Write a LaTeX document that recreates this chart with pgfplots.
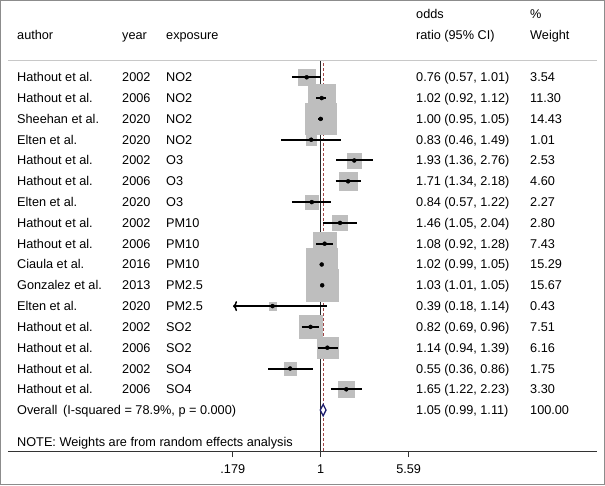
\documentclass[border=0pt]{standalone}
\usepackage{pgfplots}
\pgfplotsset{compat=1.18}
\usepackage{pgfplotstable}
\usepackage{fontspec}
\setmainfont{Liberation Sans}
\usetikzlibrary{arrows.meta}

\definecolor{boxgray}{RGB}{190,190,190}
\definecolor{refred}{RGB}{160,70,70}
\definecolor{diamblue}{RGB}{30,30,110}
\definecolor{framegray}{RGB}{140,140,140}
\definecolor{hdrgray}{RGB}{200,200,200}

% study estimates: odds ratio, 95% CI, weight, row position
\pgfplotstableread{
or   lo   hi   w     y
0.76 0.57 1.01 3.54  407.7
1.02 0.92 1.12 11.30 386.9
1.00 0.95 1.05 14.43 366.1
0.83 0.46 1.49 1.01  345.3
1.93 1.36 2.76 2.53  324.5
1.71 1.34 2.18 4.60  303.7
0.84 0.57 1.22 2.27  282.9
1.46 1.05 2.04 2.80  262.1
1.08 0.92 1.28 7.43  241.3
1.02 0.99 1.05 15.29 220.5
1.03 1.01 1.05 15.67 199.7
0.39 0.18 1.14 0.43  178.9
0.82 0.69 0.96 7.51  158.1
1.14 0.94 1.39 6.16  137.3
0.55 0.36 0.86 1.75  116.5
1.65 1.22 2.23 3.30  95.7
}\studies

\begin{document}
\begin{tikzpicture}[font=\fontsize{12.7}{15}\selectfont]
\begin{axis}[
  set layers=standard,
  scale only axis, width=589pt, height=390pt,
  xmode=log, xmin=0.0022, xmax=223,
  ymin=34, ymax=424,
  axis x line*=bottom, axis y line=none,
  x axis line style={-, draw=black!80, line width=1pt},
  xtick={0.179,1,5.59}, xticklabels={.179,1,5.59},
  minor xtick={},
  tick align=outside, major tick length=6pt,
  tick style={black!80, line width=0.8pt},
  xticklabel style={font=\fontsize{12.7}{15}\selectfont, yshift=-4.5pt},
  clip=false,
]
% reference lines
\addplot[on layer=axis background, black!85, line width=0.8pt] coordinates {(1,34) (1,424)};
\addplot[on layer=axis background, refred, line width=0.8pt, dash pattern=on 3pt off 2pt] coordinates {(1.05,34) (1.05,424)};
% weight boxes
\addplot[on layer=axis grid, mark layer=axis grid,
  scatter, only marks, mark=square*, draw=boxgray, fill=boxgray,
  mark options={draw=boxgray, fill=boxgray},
  scatter/use mapped color={draw=boxgray, fill=boxgray},
  visualization depends on={1.25+3.75*sqrt(\thisrow{w}) \as \hs},
  scatter/@pre marker code/.append style={/tikz/mark size=\hs}]
  table[x=or, y=y] {\studies};
% confidence intervals
\addplot[black, line width=2pt, empty line=jump] table {
x y
0.57 407.7
1.01 407.7

0.92 386.9
1.12 386.9

0.95 366.1
1.05 366.1

0.46 345.3
1.49 345.3

1.36 324.5
2.76 324.5

1.34 303.7
2.18 303.7

0.57 282.9
1.22 282.9

1.05 262.1
2.04 262.1

0.92 241.3
1.28 241.3

0.99 220.5
1.05 220.5

1.01 199.7
1.05 199.7

0.69 158.1
0.96 158.1

0.94 137.3
1.39 137.3

0.36 116.5
0.86 116.5

1.22 95.7
2.23 95.7
};
\addplot[black, line width=1.5pt, {To[length=4pt, width=10pt]}-] coordinates {(0.18,178.9) (1.14,178.9)};
% point estimates
\addplot[only marks, mark=*, mark size=2pt, black] table[x=or, y=y] {\studies};
% overall estimate
\addplot[draw=diamblue, fill=white, line width=1.3pt] coordinates {(0.99,74.9) (1.05,80.6) (1.11,74.9) (1.05,69.2) (0.99,74.9)};
\draw[hdrgray, line width=1pt] (rel axis cs:0,1) -- (rel axis cs:1,1);
\coordinate (LL) at (rel axis cs:0,0);
\coordinate (UR) at (rel axis cs:1,1);
\coordinate (R) at (axis cs:1,407.7);
\end{axis}

\tikzset{txt/.style={anchor=base west, inner sep=0pt}}
% header
\node[txt] at ([shift={(-303.7pt,37.8pt)}]R) {author};
\node[txt] at ([shift={(-198.7pt,37.8pt)}]R) {year};
\node[txt] at ([shift={(-154.7pt,37.8pt)}]R) {exposure};
\node[txt] at ([shift={(95.3pt,58.8pt)}]R) {odds};
\node[txt] at ([shift={(95.3pt,37.8pt)}]R) {ratio (95\% CI)};
\node[txt] at ([shift={(209.3pt,58.8pt)}]R) {\%};
\node[txt] at ([shift={(209.3pt,37.8pt)}]R) {Weight};
% rows
\foreach \au/\yr/\ex/\ci/\wt [count=\i from 0] in {
  Hathout et al./2002/NO2/{0.76 (0.57, 1.01)}/3.54,
  Hathout et al./2006/NO2/{1.02 (0.92, 1.12)}/11.30,
  Sheehan et al./2020/NO2/{1.00 (0.95, 1.05)}/14.43,
  Elten et al./2020/NO2/{0.83 (0.46, 1.49)}/1.01,
  Hathout et al./2002/O3/{1.93 (1.36, 2.76)}/2.53,
  Hathout et al./2006/O3/{1.71 (1.34, 2.18)}/4.60,
  Elten et al./2020/O3/{0.84 (0.57, 1.22)}/2.27,
  Hathout et al./2002/PM10/{1.46 (1.05, 2.04)}/2.80,
  Hathout et al./2006/PM10/{1.08 (0.92, 1.28)}/7.43,
  Ciaula et al./2016/PM10/{1.02 (0.99, 1.05)}/15.29,
  Gonzalez et al./2013/PM2.5/{1.03 (1.01, 1.05)}/15.67,
  Elten et al./2020/PM2.5/{0.39 (0.18, 1.14)}/0.43,
  Hathout et al./2002/SO2/{0.82 (0.69, 0.96)}/7.51,
  Hathout et al./2006/SO2/{1.14 (0.94, 1.39)}/6.16,
  Hathout et al./2002/SO4/{0.55 (0.36, 0.86)}/1.75,
  Hathout et al./2006/SO4/{1.65 (1.22, 2.23)}/3.30}{
  \node[txt] at ([shift={(-303.7pt,{(-20.8*\i-4.5)*1pt})}]R) {\au};
  \node[txt] at ([shift={(-198.7pt,{(-20.8*\i-4.5)*1pt})}]R) {\yr};
  \node[txt] at ([shift={(-154.7pt,{(-20.8*\i-4.5)*1pt})}]R) {\ex};
  \node[txt] at ([shift={(95.3pt,{(-20.8*\i-4.5)*1pt})}]R) {\ci};
  \node[txt] at ([shift={(209.3pt,{(-20.8*\i-4.5)*1pt})}]R) {\wt};
}
\node[txt] at ([shift={(-303.7pt,{(-20.8*16-4.5)*1pt})}]R) {Overall\hspace{0.45em}(I-squared = 78.9\%, p = 0.000)};
\node[txt] at ([shift={(95.3pt,{(-20.8*16-4.5)*1pt})}]R) {1.05 (0.99, 1.11)};
\node[txt] at ([shift={(209.3pt,{(-20.8*16-4.5)*1pt})}]R) {100.00};
\node[txt] at ([shift={(-303.7pt,-368.9pt)}]R) {NOTE: Weights are from random effects analysis};
% frame
\pgfresetboundingbox
\draw[framegray, line width=1.2pt] ([shift={(-7.4pt,-33.4pt)}]LL) rectangle ([shift={(7.4pt,60.4pt)}]UR);
\path[use as bounding box] ([shift={(-8pt,-34pt)}]LL) rectangle ([shift={(8pt,61pt)}]UR);
\end{tikzpicture}
\end{document}
